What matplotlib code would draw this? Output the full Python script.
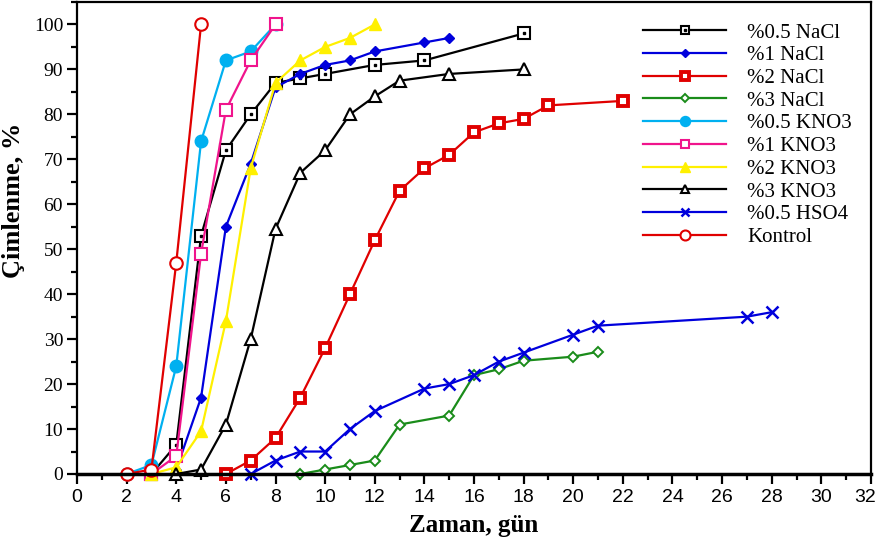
import matplotlib.pyplot as plt
from matplotlib.ticker import MultipleLocator
from matplotlib.transforms import offset_copy

# Çimlenme verileri (gün, %)
nacl05_x = [3, 4, 5, 6, 7, 8, 9, 10, 12, 14, 18]
nacl05_y = [0, 6.5, 53, 72, 80, 87, 88, 89, 91, 92, 98]
nacl1_x = [4, 5, 6, 7, 8, 9, 10, 11, 12, 14, 15]
nacl1_y = [1, 17, 55, 69, 86, 89, 91, 92, 94, 96, 97]
nacl2_x = [6, 7, 8, 9, 10, 11, 12, 13, 14, 15, 16, 17, 18, 19, 22]
nacl2_y = [0, 3, 8, 17, 28, 40, 52, 63, 68, 71, 76, 78, 79, 82, 83]
nacl3_x = [9, 10, 11, 12, 13, 15, 16, 17, 18, 20, 21]
nacl3_y = [0, 1, 2, 3, 11, 13, 22, 23.3, 25.2, 26.1, 27.2]
kno05_x = [2, 3, 4, 5, 6, 7, 8]
kno05_y = [0, 2, 24, 74, 92, 94, 100]
kno1_x = [3, 4, 5, 6, 7, 8]
kno1_y = [0, 4, 49, 81, 92, 100]
kno2_x = [3, 4, 5, 6, 7, 8, 9, 10, 11, 12]
kno2_y = [0, 1.5, 9.5, 34, 68, 87, 92, 95, 97, 100]
kno3_x = [4, 5, 6, 7, 8, 9, 10, 11, 12, 13, 15, 18]
kno3_y = [0, 1, 11, 30, 54.5, 67, 72, 80, 84, 87.5, 89, 90]
hso_x = [7, 8, 9, 10, 11, 12, 14, 15, 16, 17, 18, 20, 21, 27, 28]
hso_y = [0, 3, 5, 5, 10, 14, 19, 20, 22, 25, 27, 31, 33, 35, 36]
kontrol_x = [2, 3, 4, 5]
kontrol_y = [0, 1, 47, 100]

BLUE = "#0000DC"
RED = "#E00000"

fig = plt.figure(figsize=(8.79, 5.43), dpi=100)
ax = fig.add_axes([77 / 879, 1 - 474 / 543, 794 / 879, 472 / 543])

kw = dict(lw=1.6, clip_on=False)
h1 = ax.plot(nacl05_x, nacl05_y, color="black", marker="s", ms=8, mew=1.5, mfc="white", **kw)[0]
h1d = ax.plot(nacl05_x, nacl05_y, ls="none", color="black", marker="s", ms=2, clip_on=False)[0]
h2 = ax.plot(nacl1_x, nacl1_y, color=BLUE, marker="D", ms=5.5, **kw)[0]
h3 = ax.plot(nacl2_x, nacl2_y, color=RED, marker="s", ms=7, mew=2.8, mfc="white", **kw)[0]
h4 = ax.plot(nacl3_x, nacl3_y, color="#1A8C1A", marker="D", ms=5, mew=1.4, mfc="white", **kw)[0]
h5 = ax.plot(kno05_x, kno05_y, color="#00B0F0", marker="o", ms=9, **kw)[0]
h6 = ax.plot(kno1_x, kno1_y, color="#F0148C", marker="s", ms=8, mew=1.5, mfc="white", **kw)[0]
h7 = ax.plot(kno2_x, kno2_y, color="#FFF000", marker="^", ms=9, **kw)[0]
h8 = ax.plot(kno3_x, kno3_y, color="black", marker="^", ms=8, mew=1.5, mfc="white", **kw)[0]
h9 = ax.plot(hso_x, hso_y, color=BLUE, marker="x", ms=8, mew=1.8, **kw)[0]
h10 = ax.plot(kontrol_x, kontrol_y, color=RED, marker="o", ms=9, mew=1.5, mfc="white", **kw)[0]

ax.set_xlim(0, 32)
ax.set_ylim(0, 105)
ax.xaxis.set_major_locator(MultipleLocator(2))
ax.xaxis.set_minor_locator(MultipleLocator(1))
ax.yaxis.set_minor_locator(MultipleLocator(5))
ax.set_yticks(range(0, 101, 10))
ax.tick_params(which="major", length=7, width=1.6, direction="out")
ax.tick_params(which="minor", length=4, width=1.6, direction="out")
ax.tick_params(axis="y", pad=3)
for s in ax.spines.values():
    s.set_linewidth(1.6)
ax.spines["bottom"].set_linewidth(2.5)

for t in ax.get_xticklabels():
    t.set_family(["Liberation Sans Narrow", "Liberation Sans"])
    t.set_fontsize(14)
for t in ax.get_yticklabels():
    t.set_family("Liberation Serif")
    t.set_fontsize(14)

ax.set_xlabel("Zaman, gün", family="Liberation Serif", fontweight="bold", fontsize=18, labelpad=6)
ax.set_ylabel("Çimlenme, %", family="Liberation Serif", fontweight="bold", fontsize=19, labelpad=1)
ax.yaxis.set_label_coords(-0.066, 0.58)

handles = [(h1, h1d), h2, h3, h4, h5, h6, h7, h8, h9, h10]
labels = ["%0.5 NaCl", "%1 NaCl", "%2 NaCl", "%3 NaCl", "%0.5 KNO3",
          "%1 KNO3", "%2 KNO3", "%3 KNO3", "%0.5 HSO4", "Kontrol"]
fig.legend(handles, labels, loc="upper left", bbox_to_anchor=(643 / 879, 1 - 23 / 543),
           frameon=False, numpoints=1, markerscale=0.8, handlelength=4.0, handletextpad=1.0,
           labelspacing=0.15, borderpad=0, borderaxespad=0,
           prop={"family": "Liberation Serif", "size": 15})

# son x etiketi (32) kenardan taşmasın: çizimden sonra biraz sola kaydır
fig.canvas.draw()
last = [t for t in ax.xaxis.get_major_ticks() if abs(t.get_loc() - 32) < 1e-9][0]
last.label1.set_transform(offset_copy(last.label1.get_transform(), fig=fig, x=-6, units="dots"))

fig.savefig("out.png", dpi=100)
